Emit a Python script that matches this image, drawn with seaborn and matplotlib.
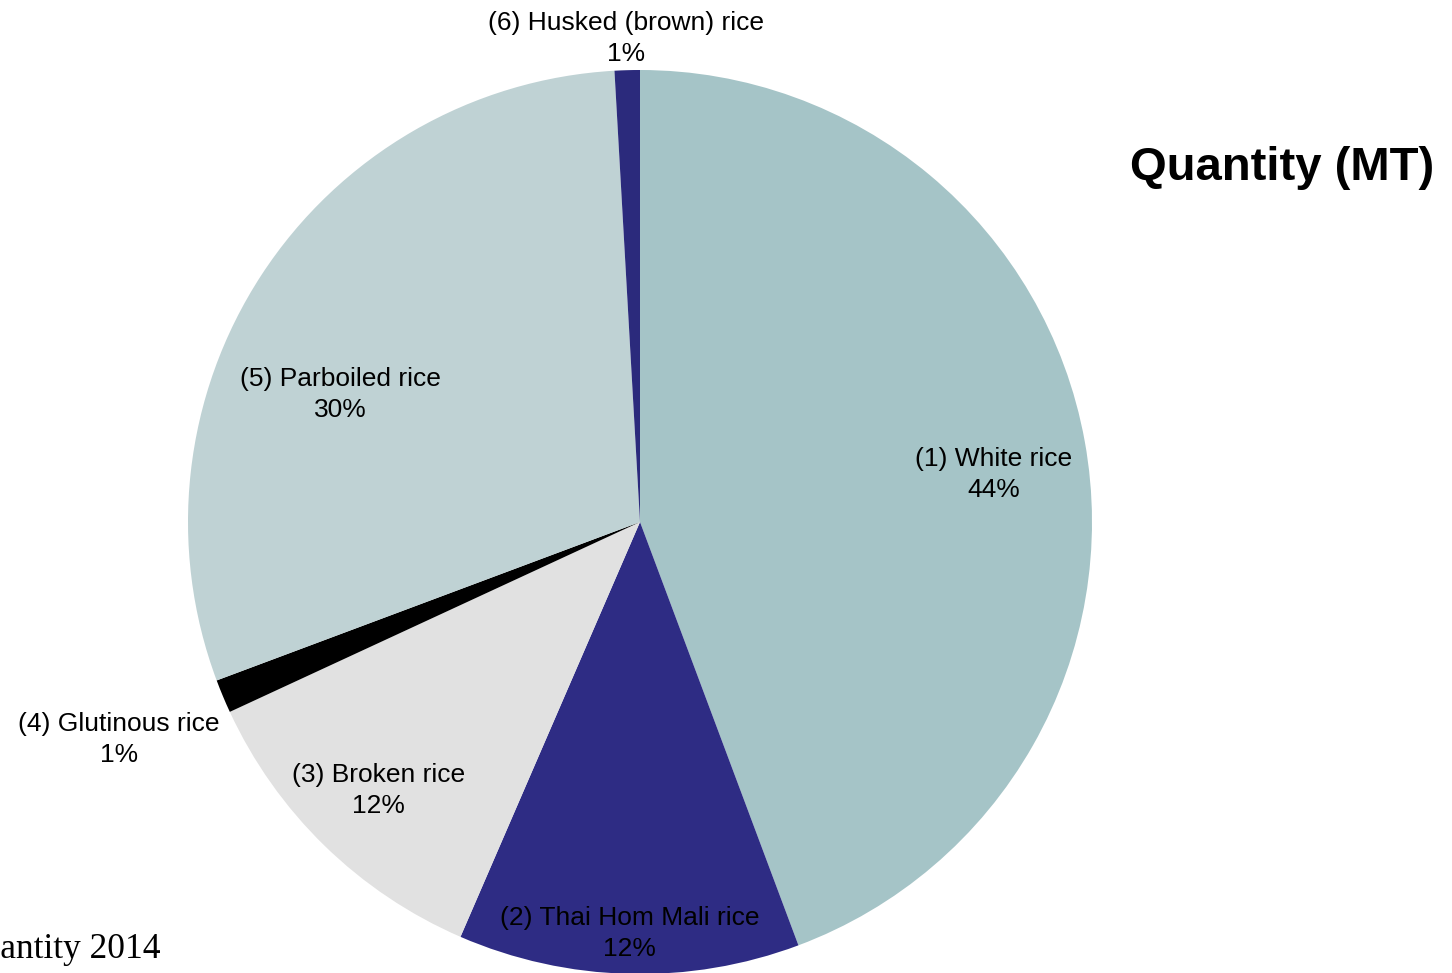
import numpy as np
import matplotlib
matplotlib.use("Agg")
import matplotlib.pyplot as plt
import seaborn as sns

sns.set_style("white")
plt.rcParams['font.family'] = ['Liberation Sans', 'DejaVu Sans']
plt.rcParams['text.color'] = 'black'

# share of export quantity 2014 (%)
categories = ["(1) White rice", "(2) Thai Hom Mali rice", "(3) Broken rice",
              "(4) Glutinous rice", "(5) Parboiled rice", "(6) Husked (brown) rice"]
shares = [44.3, 12.2, 11.6, 1.2, 29.8, 0.9]
colors = ["#a5c4c7", "#2e2c84", "#e1e1e1", "#000000", "#bfd2d4", "#2b2a7c"]

# label placement (radius, angle offset in deg) per slice
label_r = [0.79, 0.91, 0.83, 1.25, 0.72, 1.07]
label_da = [-2.6, 0, 0, 0, 10, 0]

W, H = 1452, 973
cx, cy, R = 640, 522, 452

fig = plt.figure(figsize=(W / 100, H / 100), dpi=100)
ax = fig.add_axes([0, 0, 1, 1])

wedges, _ = ax.pie(shares, colors=colors, startangle=90, counterclock=False,
                   radius=1, wedgeprops=dict(linewidth=0))

total = sum(shares)
for w, lab, val, r, da in zip(wedges, categories, shares, label_r, label_da):
    mid = np.deg2rad((w.theta1 + w.theta2) / 2 + da)
    ax.text(r * np.cos(mid), r * np.sin(mid),
            f"{lab}\n{round(val / total * 100):.0f}%",
            ha="center", va="center", fontsize=19, color="black",
            linespacing=1.38)

ax.set_xlim(-cx / R, (W - cx) / R)
ax.set_ylim(-(H - cy) / R, cy / R)
ax.set_aspect("equal")
ax.axis("off")

fig.text(1130 / W, 1 - 168 / H, "Quantity (MT)", fontsize=34, fontweight="bold",
         color="black", ha="left", va="center")
fig.text(-43 / W, 1 - 958 / H, "Quantity 2014", fontsize=25.5, color="black",
         family="Liberation Serif", ha="left", va="baseline")

fig.savefig("out.png", dpi=100)
